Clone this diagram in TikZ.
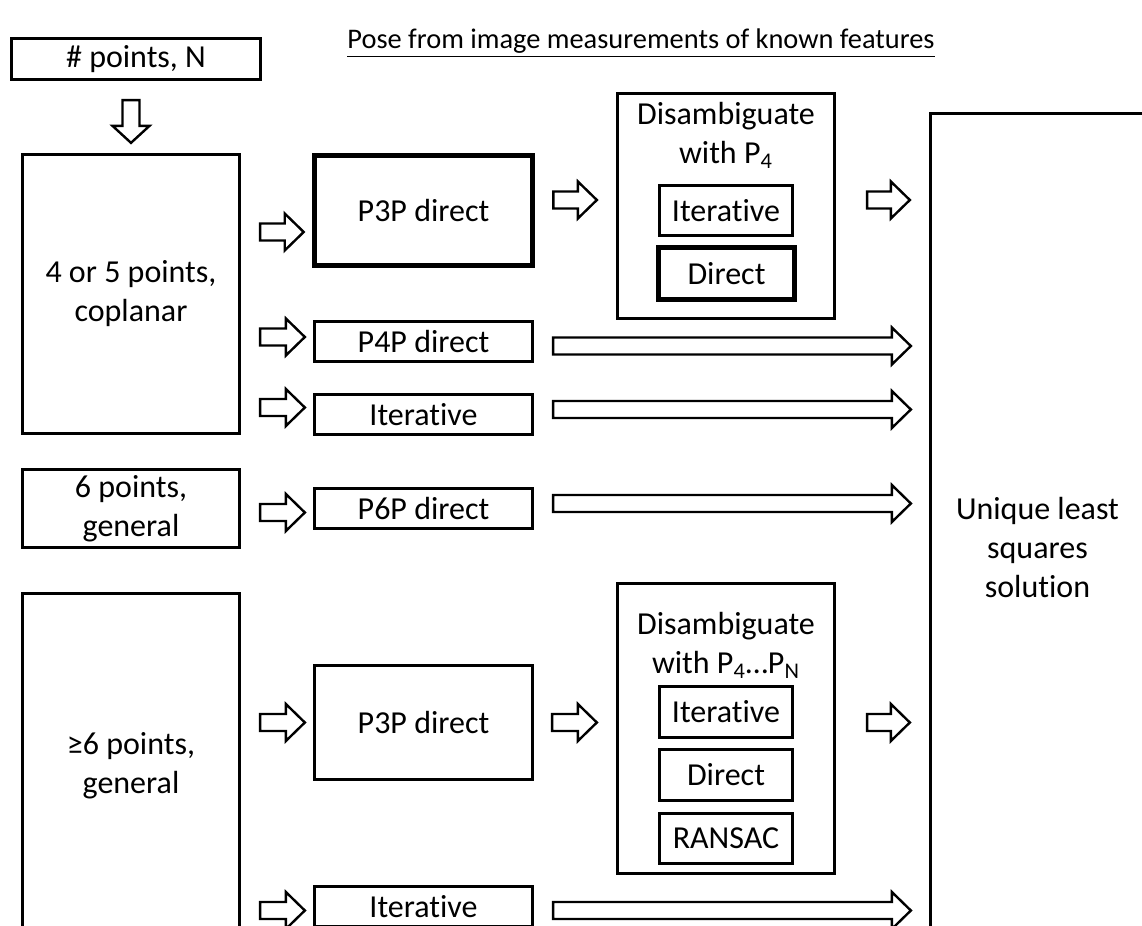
\documentclass[tikz,border=0pt]{standalone}
\usepackage{fontspec}
\setmainfont[Ligatures=NoCommon]{Carlito}
\usepackage{tikz}
\usetikzlibrary{calc}
\tikzstyle{box} = [rectangle, draw=black, line width=1.4pt, inner sep=0pt, text centered, align=center]
\tikzstyle{boldbox} = [box, line width=2.8pt]
\tikzstyle{wide} = [minimum width=109.25pt, minimum height=20.25pt]
\tikzstyle{small} = [minimum width=66.75pt, minimum height=25.25pt]
\tikzstyle{barrow} = [draw=black, fill=white, line width=1.2pt, line join=miter,
                      to path={let \p1=(\tikztostart), \p2=(\tikztotarget) in
                      (\x1,\y1+4.25pt) -- (\x2-9.5pt,\y1+4.25pt) -- (\x2-9.5pt,\y1+9.25pt) -- (\x2,\y1)
                      -- (\x2-9.5pt,\y1-9.25pt) -- (\x2-9.5pt,\y1-4.25pt) -- (\x1,\y1-4.25pt) -- cycle}]
\tikzstyle{barrowdown} = [draw=black, fill=white, line width=1.2pt, line join=miter,
                      to path={let \p1=(\tikztostart), \p2=(\tikztotarget) in
                      (\x1-4.25pt,\y1) -- (\x1-4.25pt,\y2+8.5pt) -- (\x1-9.25pt,\y2+8.5pt) -- (\x1,\y2)
                      -- (\x1+9.25pt,\y2+8.5pt) -- (\x1+4.25pt,\y2+8.5pt) -- (\x1+4.25pt,\y1) -- cycle}]

\begin{document}
\begin{tikzpicture}[x=0.5pt, y=-0.5pt, every node/.style={font=\fontsize{16pt}{19.5pt}\selectfont}]

\useasboundingbox (0,0) rectangle (1142,926);
\clip (0,0) rectangle (1142,926);

\node (title) [font=\fontsize{14.2pt}{17pt}\selectfont] at (641,43) {\underline{Pose from image measurements of known features}};
\node (npts) [box, minimum width=124.75pt, minimum height=20.75pt] at (136,59) {\# points, N};
\node (copl) [box, minimum width=108.75pt, minimum height=139.75pt] at (131,294) {4 or 5 points,\\coplanar};
\node (six) [box, minimum width=108.75pt, minimum height=39.25pt] at (131,508.5) {6 points,\\general};
\node (gesix) [box, minimum width=108.75pt, minimum height=172.75pt] at (131,766) {≥6 points,\\general};

\node (p3pa) [boldbox, minimum width=109pt, minimum height=55pt] at (423.5,210.5) {P3P direct};
\node (p4p) [box, wide] at (423.5,341.5) {P4P direct};
\node (itb) [box, wide] at (423.5,414.5) {Iterative};
\node (p6p) [box, wide] at (423.5,508.5) {P6P direct};
\node (p3pb) [box, minimum width=109.25pt, minimum height=57.25pt] at (423.5,722.5) {P3P direct};
\node (itd) [box, wide] at (423.5,906.5) {Iterative};

\node (disa) [box, minimum width=108.75pt, minimum height=112.75pt,
              label={[align=center, anchor=north, yshift=-1.5pt]north:{Disambiguate\\with P\textsubscript{4}}}] at (726,206) {};
\node (ita) [box, small] at (726,210.5) {Iterative};
\node (dira) [boldbox, minimum width=68pt, minimum height=26pt] at (726.5,273.5) {Direct};

\node (disb) [box, minimum width=108.75pt, minimum height=145.25pt,
              label={[align=center, anchor=north, yshift=-11.5pt]north:{Disambiguate\\with P\textsubscript{4}…P\textsubscript{N}}}] at (726,728.5) {};
\node (itc) [box, small] at (726,712) {Iterative};
\node (dirc) [box, small] at (726,775) {Direct};
\node (ransac) [box, small] at (726,838.5) {RANSAC};

\node (sol) [box, minimum width=107.25pt, minimum height=434.75pt] at (1037.5,548) {Unique least\\squares\\solution};

\draw [barrowdown] ($(npts.south -| copl)+(0,19)$) to ($(copl.north)+(0,-10)$);

\draw [barrow] ($(copl.east |- p3pa)+(19,21.5)$) to ($(p3pa.west)+(-8,21.5)$);
\draw [barrow] ($(p3pa.east)+(18,-10.5)$) to ($(disa.west |- p3pa)+(-19,-10.5)$);
\draw [barrow] ($(disa.east |- p3pa)+(31,-10.5)$) to ($(sol.west |- p3pa)+(-19,-10.5)$);
\draw [barrow] ($(copl.east |- p4p)+(19,-4.5)$) to ($(p4p.west)+(-8,-4.5)$);
\draw [barrow] ($(p4p.east)+(19,4.5)$) to ($(sol.west |- p4p)+(-18,4.5)$);
\draw [barrow] ($(copl.east |- itb)+(19,-7)$) to ($(itb.west)+(-8,-7)$);
\draw [barrow] ($(itb.east)+(19,-5)$) to ($(sol.west |- itb)+(-18,-5)$);
\draw [barrow] ($(six.east |- p6p)+(19,4)$) to ($(p6p.west)+(-8,4)$);
\draw [barrow] ($(p6p.east)+(19,-5)$) to ($(sol.west |- p6p)+(-18,-5)$);
\draw [barrow] ($(gesix.east |- p3pb)+(19,0)$) to ($(p3pb.west)+(-8,0)$);
\draw [barrow] ($(p3pb.east)+(18,0)$) to ($(disb.west |- p3pb)+(-19,0)$);
\draw [barrow] ($(disb.east |- p3pb)+(31,0)$) to ($(sol.west |- p3pb)+(-19,0)$);
\draw [barrow] ($(gesix.east |- itd)+(19,4)$) to ($(itd.west)+(-8,4)$);
\draw [barrow] ($(itd.east)+(19,4)$) to ($(sol.west |- itd)+(-18,4)$);

\end{tikzpicture}
\end{document}
